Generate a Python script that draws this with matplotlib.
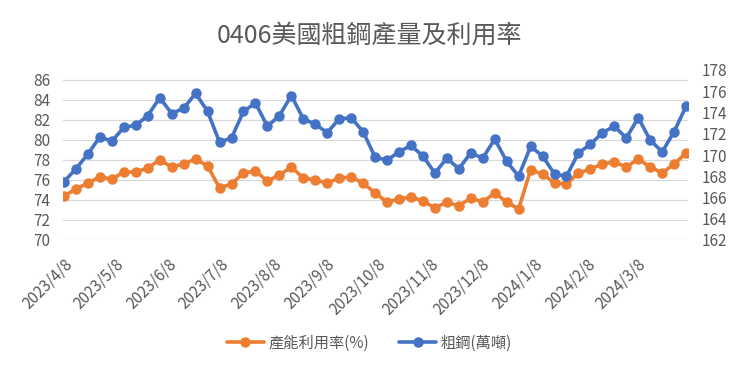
import numpy as np
import pandas as pd
import matplotlib
matplotlib.use("Agg")
import matplotlib.pyplot as plt

plt.rcParams['font.family'] = ['Noto Sans CJK TC', 'DejaVu Sans']

# weekly data, week ending Saturday
start_date = "2023-04-08"
n_weeks = 53

utilization = [
    74.4, 75.1, 75.7, 76.3, 76.1, 76.8, 76.8, 77.2, 78.0, 77.3,
    77.6, 78.1, 77.4, 75.2, 75.6, 76.7, 76.9, 75.9, 76.5, 77.3,
    76.2, 76.0, 75.7, 76.2, 76.3, 75.7, 74.7, 73.8, 74.1, 74.3,
    73.9, 73.2, 73.8, 73.4, 74.2, 73.8, 74.7, 73.8, 73.1, 77.0,
    76.6, 75.7, 75.6, 76.7, 77.1, 77.6, 77.8, 77.3, 78.1, 77.3,
    76.7, 77.6, 78.7,
]

crude_steel = [
    167.5, 168.7, 170.1, 171.7, 171.3, 172.6, 172.8, 173.7, 175.4, 173.9,
    174.4, 175.8, 174.1, 171.2, 171.6, 174.1, 174.9, 172.7, 173.7, 175.6,
    173.4, 172.9, 172.1, 173.4, 173.5, 172.2, 169.8, 169.5, 170.3, 170.9,
    169.9, 168.3, 169.7, 168.7, 170.2, 169.7, 171.5, 169.4, 168.0, 170.8,
    169.9, 168.2, 168.0, 170.2, 171.0, 172.1, 172.7, 171.6, 173.5, 171.4,
    170.3, 172.2, 174.6,
]

tick_dates = [
    "2023-04-08", "2023-05-08", "2023-06-08", "2023-07-08", "2023-08-08",
    "2023-09-08", "2023-10-08", "2023-11-08", "2023-12-08", "2024-01-08",
    "2024-02-08", "2024-03-08",
]

title = "0406美國粗鋼產量及利用率"
label_util = "產能利用率(%)"
label_steel = "粗鋼(萬噸)"

dates = pd.date_range(start_date, periods=n_weeks, freq="7D")
ticks = pd.to_datetime(tick_dates)

orange = "#ED7D31"
blue = "#4472C4"
text_c = "#595959"
grid_c = "#D9D9D9"

fig = plt.figure(figsize=(7.39, 3.70), dpi=100)
ax = fig.add_axes([63 / 739, 130 / 370, 625 / 739, 170 / 370])
ax2 = ax.twinx()

l1, = ax.plot(dates, utilization, color=orange, lw=2.6, marker='o', ms=6.5,
              solid_capstyle='round', label=label_util)
l2, = ax2.plot(dates, crude_steel, color=blue, lw=2.6, marker='o', ms=6.5,
               solid_capstyle='round', label=label_steel)

ax.set_xlim(dates[0] - pd.Timedelta(days=0.6), dates[-1] + pd.Timedelta(days=1.1))
ax.set_ylim(70, 87)
ax.set_yticks(np.arange(70, 87, 2))
ax2.set_ylim(162, 178)
ax2.set_yticks(np.arange(162, 179, 2))

ax.set_xticks(ticks)
ax.set_xticklabels([f"{d.year}/{d.month}/{d.day}" for d in ticks],
                   rotation=45, ha='right', va='top', rotation_mode='anchor')

ax.grid(axis='y', color=grid_c, lw=0.9)
ax.set_axisbelow(True)

for a in (ax, ax2):
    for s in a.spines.values():
        s.set_visible(False)
    a.tick_params(length=0, labelsize=11, labelcolor=text_c)
ax.tick_params(axis='y', pad=9)
ax2.tick_params(axis='y', pad=10)
ax.tick_params(axis='x', pad=11)

fig.text(0.5, 1 - 36 / 370, title, ha='center', va='center',
         fontsize=18, color=text_c)

fig.legend(handles=[l1, l2], loc='center', bbox_to_anchor=(0.5, 27 / 370),
           ncol=2, frameon=False, fontsize=11, labelcolor=text_c,
           handlelength=2.4, columnspacing=2.0, handletextpad=0.3)

fig.savefig("out.png", dpi=100)
